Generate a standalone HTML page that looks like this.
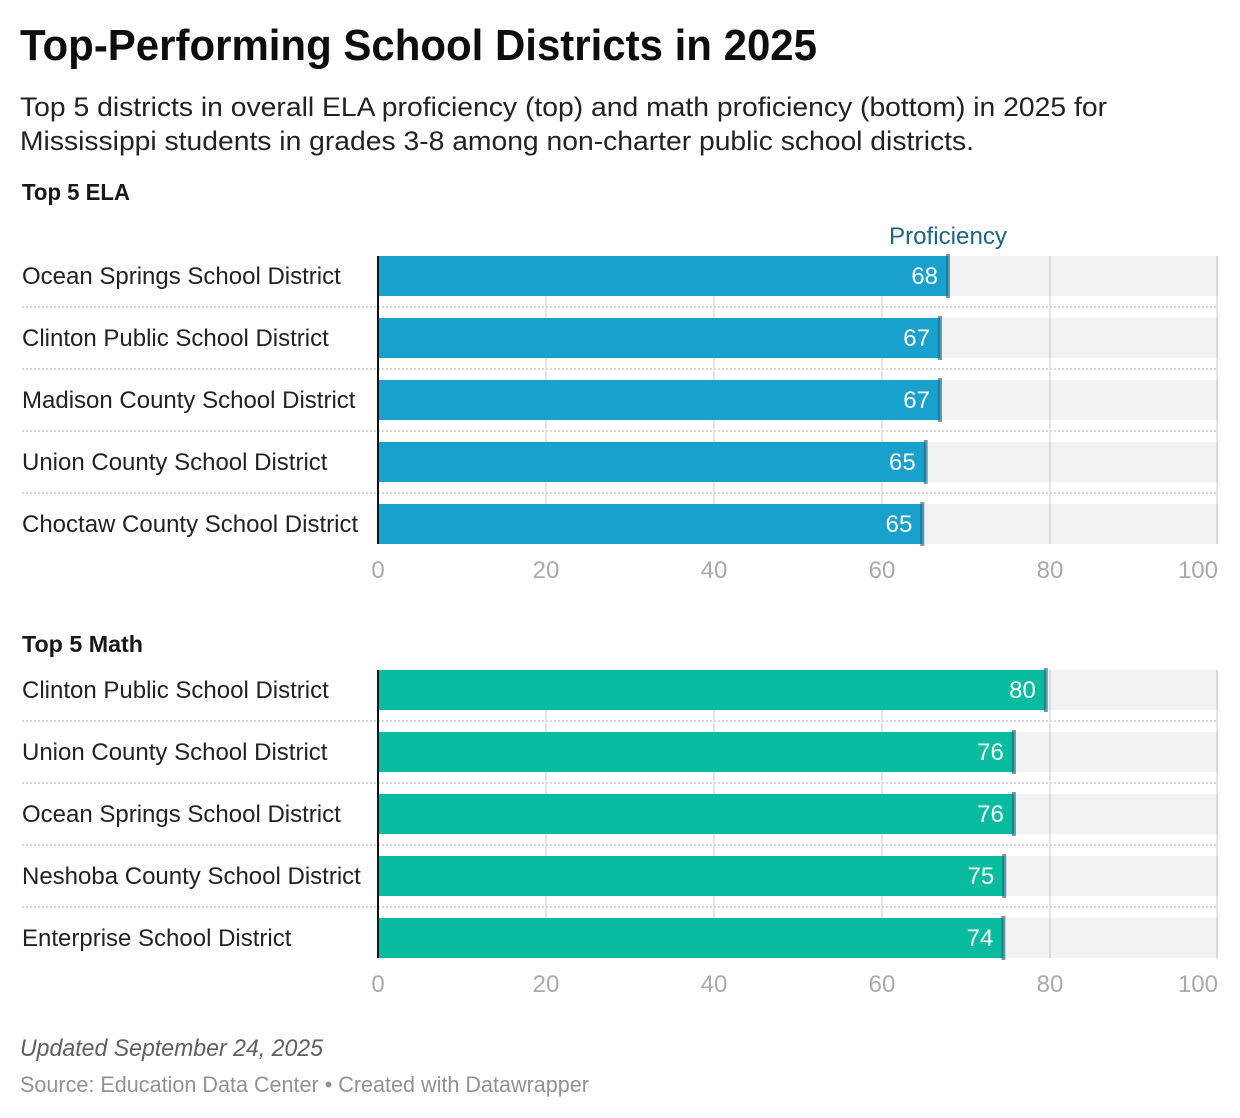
<!DOCTYPE html>
<html lang="en">
<head>
<meta charset="utf-8">
<title>Top-Performing School Districts in 2025</title>
<style>
html,body{margin:0;padding:0;background:#fff;}
body{width:1240px;height:1118px;overflow:hidden;}
svg{display:block;font-family:"Liberation Sans",Arial,sans-serif;}
</style>
</head>
<body>
<svg id="chart" width="1240" height="1118" viewBox="0 0 1240 1118" xmlns="http://www.w3.org/2000/svg">
  <text x="20" y="60" font-size="44" font-weight="700" fill="#0d0d0d" textLength="797" lengthAdjust="spacingAndGlyphs">Top-Performing School Districts in 2025</text>
  <text x="20" y="116" font-size="27" fill="#222" textLength="1087" lengthAdjust="spacingAndGlyphs">Top 5 districts in overall ELA proficiency (top) and math proficiency (bottom) in 2025 for</text>
  <text x="20" y="150" font-size="27" fill="#222" textLength="954" lengthAdjust="spacingAndGlyphs">Mississippi students in grades 3-8 among non-charter public school districts.</text>
  <text x="22" y="200" font-size="23.5" font-weight="700" fill="#181818" textLength="108" lengthAdjust="spacingAndGlyphs">Top 5 ELA</text>
  <text x="889" y="244" font-size="24" fill="#1d6580" textLength="118" lengthAdjust="spacingAndGlyphs">Proficiency</text>
  <text x="22" y="652" font-size="23.5" font-weight="700" fill="#181818" textLength="121" lengthAdjust="spacingAndGlyphs">Top 5 Math</text>
  <g id="ela-panel"></g>
  <g id="math-panel"></g>
  <text x="20" y="1056" font-size="24" font-style="italic" fill="#5f5f5f" textLength="303" lengthAdjust="spacingAndGlyphs">Updated September 24, 2025</text>
  <text x="20" y="1092" font-size="22" fill="#929292" textLength="569" lengthAdjust="spacingAndGlyphs">Source: Education Data Center • Created with Datawrapper</text>
</svg>
<script>
const elaDistricts = ["Ocean Springs School District", "Clinton Public School District", "Madison County School District", "Union County School District", "Choctaw County School District"];
const elaValues = [67.86, 66.9, 66.9, 65.2, 64.8];
const mathDistricts = ["Clinton Public School District", "Union County School District", "Ocean Springs School District", "Neshoba County School District", "Enterprise School District"];
const mathValues = [79.5, 75.7, 75.7, 74.55, 74.45];
const axisTicks = [0, 20, 40, 60, 80, 100];

const SVG_NS = "http://www.w3.org/2000/svg";
const xScale = function (v) { return 378 + v * 8.4; };

function make(parent, tag, attrs, text) {
  const el = document.createElementNS(SVG_NS, tag);
  Object.keys(attrs).forEach(function (k) { el.setAttribute(k, attrs[k]); });
  if (text !== undefined) el.textContent = text;
  parent.appendChild(el);
  return el;
}

function drawPanel(parent, districts, values, color, top) {
  const step = 62, barH = 40;
  const rowY = function (i) { return top + i * step; };
  const bottom = rowY(districts.length - 1) + barH;

  districts.forEach(function (d, i) {
    const bg = make(parent, "rect", { x: xScale(0), y: rowY(i), width: xScale(100) - xScale(0), height: barH, fill: "#f2f2f2" });
    
    
  });

  axisTicks.forEach(function (t) {
    if (t === 0) return;
    const g = make(parent, "rect", { x: xScale(t) - (t === 100 ? 2 : 1), y: top, width: 2, height: bottom - top, fill: "#000", "fill-opacity": "0.1" });
    
    
  });

  districts.forEach(function (d, i) {
    if (i > 0) {
      const sep = make(parent, "line", { x1: 22, x2: 1216, y1: rowY(i) - 11, y2: rowY(i) - 11, stroke: "#d9d9d9", "stroke-width": 2, "stroke-dasharray": "2 2" });
      
      
    }
    const label = make(parent, "text", { x: 22, y: rowY(i) + 28, "font-size": 24, fill: "#222" }, d);
    
    

    const bar = make(parent, "rect", { x: xScale(0), y: rowY(i), width: xScale(values[i]) - xScale(0), height: barH, fill: color });
    
    

    const marker = make(parent, "rect", { x: xScale(values[i]) - 2, y: rowY(i) - 2, width: 4, height: barH + 4, fill: "#1d6580", "fill-opacity": "0.65" });
    
    

    const val = make(parent, "text", { x: xScale(values[i]) - 10, y: rowY(i) + 28, "font-size": 24, fill: "#fff", "text-anchor": "end" }, String(Math.round(values[i])));
    
    
  });

  const axis = make(parent, "rect", { x: xScale(0) - 1, y: top, width: 2, height: bottom - top, fill: "#111" });
  
  

  axisTicks.forEach(function (t) {
    const tick = make(parent, "text", { x: xScale(t), y: bottom + 34, "font-size": 24, fill: "#aaa", "text-anchor": t === 100 ? "end" : "middle" }, String(t));
    
    
  });
}

drawPanel(document.getElementById("ela-panel"), elaDistricts, elaValues, "#18a1cd", 256);
drawPanel(document.getElementById("math-panel"), mathDistricts, mathValues, "#09bb9f", 670);
</script>
</body>
</html>
